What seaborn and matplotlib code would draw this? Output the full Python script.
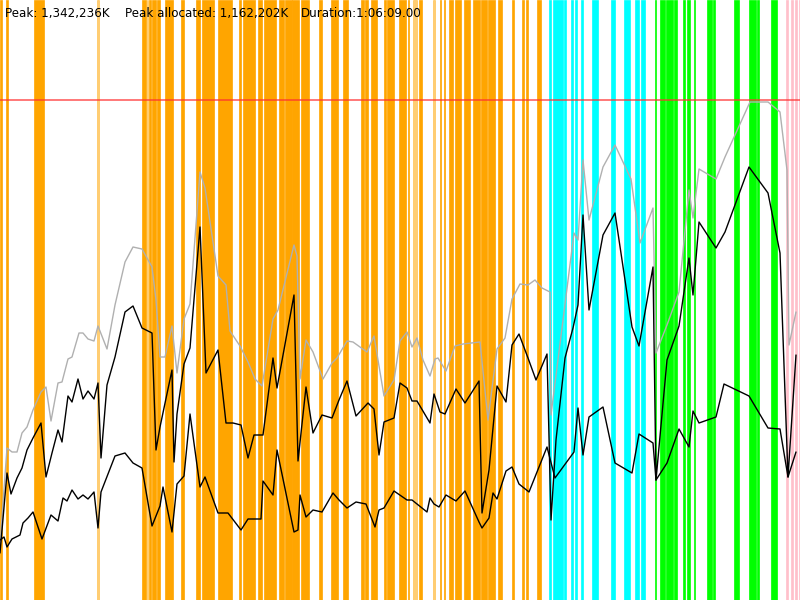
import matplotlib
matplotlib.use("Agg")
import matplotlib.pyplot as plt
import seaborn as sns
import pandas as pd

# memory timeline, heights in chart units (peak line sits at 500)
peak_level = 500
peak_text = "Peak: 1,342,236K"
alloc_text = "Peak allocated: 1,162,202K"
duration_text = "Duration:1:06:09.00"

total_t = [0, 7, 12, 17, 22, 27, 33, 41, 46, 51, 58, 62, 68, 72, 79, 83, 88, 94, 98, 107,
           115, 125, 133, 142, 152, 156, 160, 165, 172, 177, 184, 190, 200, 205, 218, 226,
           230, 240, 248, 255, 262, 273, 278, 294, 297, 300, 306, 313, 323, 332, 337, 347,
           353, 367, 374, 384, 394, 400, 407, 412, 417, 423, 430, 435, 438, 446, 455, 463,
           480, 488, 497, 505, 512, 520, 528, 535, 542, 550, 551, 574, 578, 583, 589, 603,
           615, 631, 640, 653, 656, 667, 679, 689, 693, 699, 716, 725, 750, 768, 780, 787,
           789, 796]
total_mem = [55, 152, 148, 148, 167, 173, 190, 208, 213, 179, 217, 218, 241, 243, 267, 267,
             261, 259, 274, 251, 295, 338, 353, 351, 333, 300, 243, 243, 274, 227, 281, 296,
             428, 412, 324, 315, 269, 254, 238, 221, 214, 281, 290, 355, 344, 221, 260, 248,
             221, 237, 242, 259, 258, 248, 264, 204, 220, 259, 268, 253, 262, 240, 224, 241,
             242, 229, 254, 256, 258, 180, 251, 262, 301, 316, 315, 320, 312, 308, 185, 367,
             360, 440, 380, 433, 455, 421, 357, 392, 247, 275, 308, 410, 382, 431, 421, 443,
             498, 498, 488, 430, 255, 288]

used_t = [0, 7, 11, 17, 22, 27, 33, 41, 46, 52, 58, 62, 68, 72, 78, 83, 88, 94, 98, 101,
          107, 115, 125, 133, 142, 152, 156, 160, 172, 174, 177, 184, 190, 200, 206, 218,
          226, 233, 241, 248, 254, 263, 273, 277, 294, 298, 306, 313, 322, 332, 339, 347,
          356, 368, 374, 379, 384, 394, 400, 407, 412, 417, 430, 434, 440, 445, 456, 465,
          479, 482, 489, 497, 506, 512, 519, 528, 536, 547, 551, 556, 565, 573, 578, 583,
          589, 603, 615, 632, 639, 653, 656, 667, 679, 689, 693, 699, 716, 725, 749, 768,
          780, 788, 796]
used_mem = [47, 127, 106, 122, 132, 150, 162, 177, 123, 147, 170, 158, 204, 198, 221, 201,
            209, 201, 217, 142, 215, 243, 288, 294, 272, 267, 150, 173, 230, 138, 186, 236,
            252, 373, 227, 250, 177, 177, 175, 142, 165, 165, 242, 212, 305, 139, 213, 167,
            185, 182, 200, 219, 184, 197, 191, 145, 178, 182, 217, 212, 199, 199, 177, 206,
            188, 186, 211, 197, 219, 87, 130, 214, 198, 255, 266, 242, 220, 246, 80, 160,
            242, 272, 295, 385, 290, 365, 387, 273, 254, 333, 120, 240, 274, 342, 305, 378,
            352, 368, 433, 407, 347, 123, 245]

live_t = [0, 4, 7, 12, 20, 23, 28, 33, 42, 51, 58, 63, 67, 72, 78, 83, 88, 94, 98, 101,
          115, 125, 133, 142, 152, 160, 163, 172, 177, 184, 190, 200, 205, 218, 228, 241,
          248, 261, 263, 273, 277, 294, 298, 300, 306, 313, 322, 333, 339, 347, 356, 366,
          375, 379, 384, 394, 407, 412, 427, 430, 434, 439, 446, 456, 465, 479, 482, 489,
          493, 497, 506, 512, 519, 529, 547, 555, 574, 578, 583, 589, 603, 615, 632, 639,
          653, 656, 667, 679, 689, 693, 699, 716, 724, 749, 768, 780, 788, 796]
live_mem = [60, 63, 53, 61, 65, 77, 82, 88, 61, 85, 79, 102, 99, 110, 101, 105, 101, 108,
            72, 108, 144, 147, 137, 132, 74, 94, 113, 68, 116, 124, 186, 113, 123, 87, 87,
            70, 81, 81, 119, 105, 150, 68, 70, 105, 83, 90, 88, 107, 100, 92, 98, 96, 73,
            90, 92, 109, 100, 100, 88, 102, 96, 93, 105, 99, 109, 78, 72, 82, 107, 101, 129,
            133, 116, 108, 153, 122, 148, 192, 145, 183, 193, 137, 127, 166, 157, 120, 137,
            171, 153, 189, 177, 183, 216, 204, 172, 171, 123, 148]

# activity bands (start, end) on the time axis
orange_bands = [(0, 2), (5.7, 7.7), (34, 44), (141.7, 146), (149, 151.3), (152.3, 156),
                (157, 159.7), (165, 172.7), (180.7, 184), (196, 200), (202, 214),
                (217.5, 232.3), (238.7, 241), (242.5, 255), (258, 262.3), (263.7, 275.7),
                (278.7, 284.3), (285, 291.7), (292.3, 299.3), (301, 309.3), (319, 322),
                (331.3, 337.7), (342.7, 347.7), (360.7, 364), (364.7, 368.3), (370.7, 376.7),
                (384, 386), (386.7, 394), (398.5, 406), (407.7, 409.3), (419, 422),
                (440, 441.3), (443.7, 445.3), (448.7, 453.3), (454.7, 460.7), (464, 470),
                (473, 480), (481, 487.3), (488.3, 495), (497.7, 502), (512, 514), (522, 524.3),
                (525.7, 528.3), (536.7, 541)]
orange_faint = [(96.7, 98.7), (146.7, 148), (413.3, 416.7), (432.7, 434.7)]
cyan_bands = [(549, 550.7), (553, 563), (564, 565.7), (570.7, 573.3), (574.7, 576.7),
              (581, 583), (591.7, 598.3), (611, 615.3), (624, 630), (635, 639.3), (641.3, 645)]
green_bands = [(654.7, 656), (660, 665.3), (666.3, 672.7), (674, 676.7), (682.7, 685.3),
               (687.3, 690), (694, 695.3), (706.7, 712), (713.3, 715.3), (734, 739.3),
               (749, 756), (757.3, 759.3), (771.3, 776.7)]
pink_bands = [(786, 787.7), (791, 793.3), (795, 797), (799, 800)]

sns.set_style("white")
fig = plt.figure(figsize=(8, 6), dpi=100)
ax = fig.add_axes([0, 0, 1, 1])

for bands, col, a in [(orange_bands, "#FFA500", 1.0), (orange_faint, "#FFA500", 0.55),
                      (cyan_bands, "#00FFFF", 1.0), (green_bands, "#00FF00", 1.0),
                      (pink_bands, "#FFC0CB", 1.0)]:
    for s, e in bands:
        ax.axvspan(s, e, facecolor=col, edgecolor=col, alpha=a, lw=0.5, zorder=1)

ax.axhline(peak_level, color="#FF3030", alpha=0.7, lw=1.3, zorder=2)

total_df = pd.DataFrame({"t": total_t, "mem": total_mem})
used_df = pd.DataFrame({"t": used_t, "mem": used_mem})
live_df = pd.DataFrame({"t": live_t, "mem": live_mem})
sns.lineplot(data=total_df, x="t", y="mem", ax=ax, color="#B0B0B0", lw=1.0,
             estimator=None, sort=False, zorder=3)
sns.lineplot(data=used_df, x="t", y="mem", ax=ax, color="black", lw=1.0,
             estimator=None, sort=False, zorder=4)
sns.lineplot(data=live_df, x="t", y="mem", ax=ax, color="black", lw=1.0,
             estimator=None, sort=False, zorder=4)

ax.set_xlim(0, 800)
ax.set_ylim(0, 600)
ax.axis("off")

fig.text(5 / 800, 1 - 17 / 600, peak_text, fontsize=8.6, color="black", va="baseline")
fig.text(125 / 800, 1 - 17 / 600, alloc_text, fontsize=8.6, color="black", va="baseline")
fig.text(301 / 800, 1 - 17 / 600, duration_text, fontsize=8.6, color="black", va="baseline")

fig.savefig("out.png", dpi=100)
